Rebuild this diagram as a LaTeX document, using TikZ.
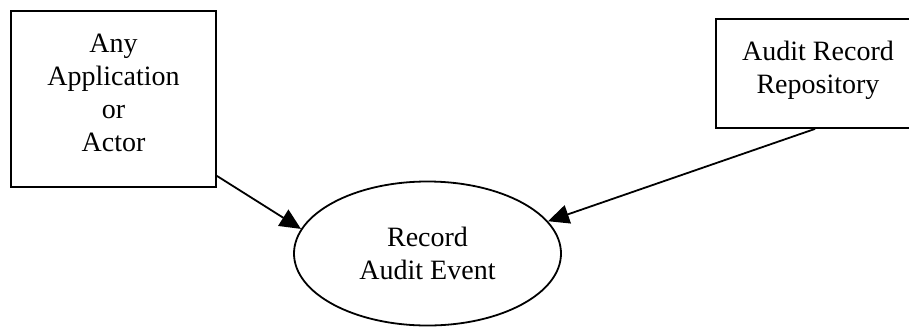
\documentclass[tikz,border=0pt]{standalone}
\usepackage{fontspec}
\setmainfont{Liberation Serif}
\usetikzlibrary{arrows.meta,shapes.geometric}
\begin{document}
\begin{tikzpicture}[x=1pt, y=-1pt, >={Triangle[length=21pt,width=19pt]},
    every node/.style={font=\fontsize{28}{33}\selectfont, align=center, line width=1.8pt},
    box/.style={draw, rectangle, inner sep=0pt},
    usecase/.style={draw, ellipse, inner sep=0pt}]
    \useasboundingbox (0,0) rectangle (909,327);

    % actor and repository (text sits a little above the box centre)
    \node[box, minimum width=205pt, minimum height=176pt,
      label={[yshift=6pt]center:{Any\\Application\\or\\Actor}}] (app) at (113.5,99) {};
    \node[box, minimum width=204pt, minimum height=109pt,
      label={[yshift=3pt]center:{Audit Record\\Repository}}] (repo) at (818,73.5) {};

    % use case
    \node[usecase, minimum width=267pt, minimum height=144pt] (rec) at (427.5,253.5) {Record\\Audit Event};

    % associations
    \draw[->, line width=1.8pt] ([yshift=12pt]app.south east) -- (rec.169);
    \draw[->, line width=1.8pt] ([xshift=-3pt]repo.south) -- (rec.15);
  \end{tikzpicture}
\end{document}
